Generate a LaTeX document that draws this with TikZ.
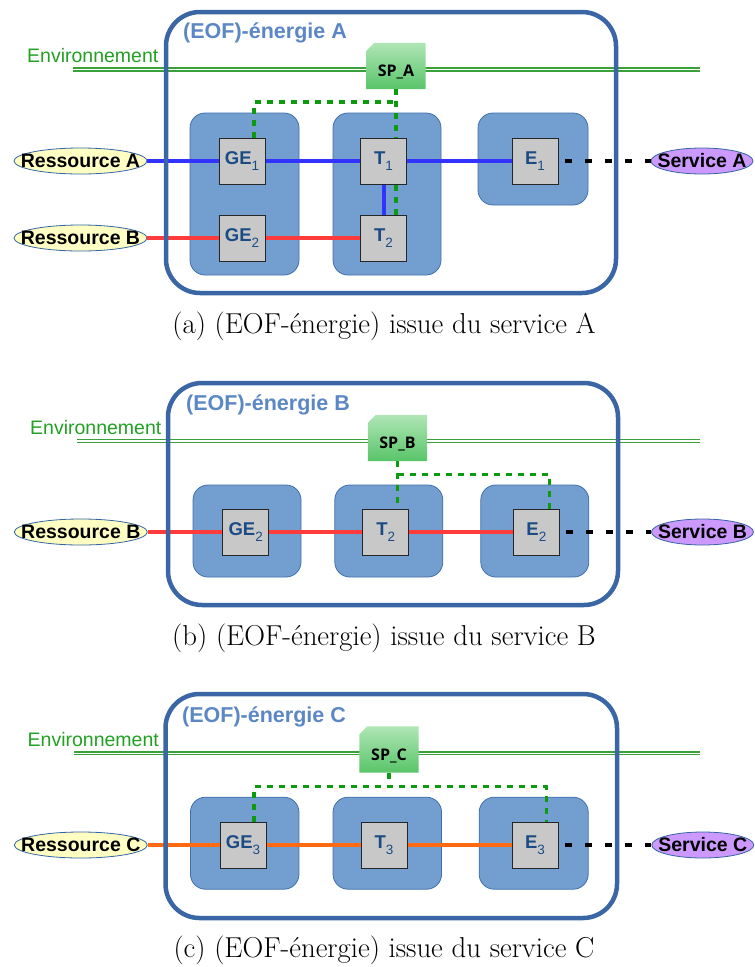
\documentclass[tikz,border=0pt]{standalone}
\usepackage{fontspec}
\newfontfamily\lib{Liberation Sans}
\newfontfamily\osans{Open Sans}
\usetikzlibrary{shapes.geometric,backgrounds,calc}
\pgfdeclarelayer{top}
\pgfsetlayers{background,main,top}
\definecolor{outerc}{HTML}{3A66A6}
\definecolor{titlec}{HTML}{5B87C5}
\definecolor{modf}{HTML}{729FCF}
\definecolor{modb}{HTML}{3F6FAE}
\definecolor{sqgray}{HTML}{C8C8C8}
\definecolor{sqtext}{HTML}{1B4B85}
\definecolor{envc}{HTML}{22A022}
\definecolor{envl}{HTML}{3AA03A}
\definecolor{gdc}{HTML}{0E9A0E}
\definecolor{resf}{HTML}{FFFFC4}
\definecolor{resb}{HTML}{3465A4}
\definecolor{servf}{HTML}{CC99FF}
\definecolor{lblue}{HTML}{3333FF}
\definecolor{lred}{HTML}{FF3B3B}
\definecolor{lorange}{HTML}{FF6A13}
\definecolor{sptop}{HTML}{B0E6B6}
\definecolor{spbot}{HTML}{58C468}
\newcommand\subs[1]{\raisebox{-5.5pt}{\fontsize{13.5}{14}\selectfont\mdseries #1}}
\newcommand\ztext[1]{\makebox[0pt]{#1}}
\tikzset{
  outerbox/.style={draw=outerc, line width=4.5pt, rounded corners=34pt},
  titletext/.style={anchor=base west, inner sep=0pt, text=titlec, font=\lib\bfseries\fontsize{21.5}{23}\selectfont},
  envtext/.style={anchor=base west, inner sep=0pt, text=envc, font=\lib\fontsize{19.5}{22}\selectfont},
  envline/.style={draw=envl, double=white, line width=1.3pt, double distance=1.6pt},
  modbox/.style={draw=modb, fill=modf, line width=0.8pt, rounded corners=15pt, inner sep=0pt},
  sqbox/.style={draw=black!85, fill=sqgray, line width=1pt, minimum size=46pt, inner sep=0pt, text=sqtext, font=\lib\bfseries\fontsize{18.5}{20}\selectfont},
  resbox/.style={ellipse, draw=resb, fill=resf, line width=0.8pt, minimum width=133pt, minimum height=26pt, inner sep=0pt, font=\lib\bfseries\fontsize{19.5}{20}\selectfont},
  servbox/.style={ellipse, draw=resb, fill=servf, line width=0.8pt, minimum width=102pt, minimum height=26pt, inner sep=0pt, font=\lib\bfseries\fontsize{19.5}{20}\selectfont},
  sptext/.style={minimum width=59pt, minimum height=46pt, inner sep=0pt, text height=21pt, text depth=0pt, font=\osans\bfseries\fontsize{16}{18}\selectfont},
  spshade/.style={top color=sptop, bottom color=spbot, draw=none},
  gdash/.style={draw=gdc, line width=3.2pt, dash pattern=on 6pt off 6pt},
  kdash/.style={draw=black, line width=4pt, dash pattern=on 6.5pt off 13.5pt, dash phase=13.5pt},
  bline/.style={draw=lblue, line width=4pt},
  rline/.style={draw=lred, line width=4pt},
  oline/.style={draw=lorange, line width=4pt},
  captext/.style={inner sep=0pt, font=\fontsize{28.8}{32}\selectfont},
}
\begin{document}
\begin{tikzpicture}[x=1pt,y=-1pt]
\useasboundingbox (0,0) rectangle (755,967);

% ================= Panel A =================
\begin{pgfonlayer}{top}
\draw[outerbox] (166,12) rectangle (616,293);
\end{pgfonlayer}
\node[titletext] (tA) at (183,38) {(EOF)-énergie A};
\node[envtext] (envA) at (27,62.5) {Environnement};
\coordinate (eA1) at (73,69.5);
\coordinate (eA2) at (700,69.5);
\node[modbox, minimum width=109pt, minimum height=162pt] (aM1) at (244.5,194) {};
\node[modbox, minimum width=108pt, minimum height=162pt] (aM2) at (387,194) {};
\node[modbox, minimum width=110pt, minimum height=92pt] (aM3) at (533,159) {};
\node[sptext] (spa) at (396,66) {SP\_A};
\begin{scope}[on background layer]
  \draw[envline] (eA1) -- (eA2);
  \shade[spshade] (spa.south west) -- ($(spa.north west)+(0,8)$) -- ($(spa.north west)+(8,0)$) -- (spa.north east) -- (spa.south east) -- cycle;
\end{scope}
\node[sqbox] (aGE1) at (242,161) {GE\subs{1}};
\node[sqbox] (aGE2) at (242,238) {GE\subs{2}};
\node[sqbox] (aT1) at (383.5,161) {T\subs{1}};
\node[sqbox] (aT2) at (383.5,238) {T\subs{2}};
\node[sqbox] (aE1) at (535,161) {E\subs{1}};
\node[resbox] (aRA) at (80.5,161) {\ztext{Ressource A}};
\node[resbox] (aRB) at (80.5,238) {\ztext{Ressource B}};
\node[servbox] (aSA) at (702,161) {\ztext{Service A}};
\coordinate (gA) at (254,102);
\draw[gdash] (spa.south) -- (spa.south |- aT1.north);
\draw[gdash] (aGE1.north -| gA) -- (gA) -- (gA -| spa.south);
\draw[gdash] (aT1.south -| spa.south) -- (aT2.north -| spa.south);
\draw[bline] (aRA.east) -- (aGE1.west);
\draw[bline] (aGE1.east) -- (aT1.west);
\draw[bline] (aT1.east) -- (aE1.west);
\draw[bline] (aT1.south) -- (aT2.north);
\draw[rline] (aRB.east) -- (aGE2.west);
\draw[rline] (aGE2.east) -- (aT2.west);
\draw[kdash] (aE1.east) -- (aSA.west);
\node[captext] (capA) at (384,326) {(a) (EOF-énergie) issue du service A};

% ================= Panel B =================
\begin{pgfonlayer}{top}
\draw[outerbox] (168,383) rectangle (618,605);
\end{pgfonlayer}
\node[titletext] (tB) at (186,410) {(EOF)-énergie B};
\node[envtext] (envB) at (30,434) {Environnement};
\coordinate (eB1) at (77,441);
\coordinate (eB2) at (700,441);
\node[modbox, minimum width=108pt, minimum height=92pt] (bM1) at (247,531) {};
\node[modbox, minimum width=108pt, minimum height=92pt] (bM2) at (388.8,531) {};
\node[modbox, minimum width=108pt, minimum height=92pt] (bM3) at (534.8,531) {};
\node[sptext] (spb) at (397.5,438) {SP\_B};
\begin{scope}[on background layer]
  \draw[envline] (eB1) -- (eB2);
  \shade[spshade] (spb.south west) -- ($(spb.north west)+(0,8)$) -- ($(spb.north west)+(8,0)$) -- (spb.north east) -- (spb.south east) -- cycle;
\end{scope}
\node[sqbox] (bGE2) at (245.7,532) {GE\subs{2}};
\node[sqbox] (bT2) at (385.7,532) {T\subs{2}};
\node[sqbox] (bE2) at (536.4,532) {E\subs{2}};
\node[resbox] (bRB) at (80.8,532) {\ztext{Ressource B}};
\node[servbox] (bSB) at (702.5,532) {\ztext{Service B}};
\coordinate (gB) at (549.7,474.7);
\draw[gdash] (spb.south) -- (spb.south |- bT2.north);
\draw[gdash] (spb.south |- gB) -- (gB) -- (gB |- bE2.north);
\draw[rline] (bRB.east) -- (bGE2.west);
\draw[rline] (bGE2.east) -- (bT2.west);
\draw[rline] (bT2.east) -- (bE2.west);
\draw[kdash] (bE2.east) -- (bSB.west);
\node[captext] (capB) at (384,638) {(b) (EOF-énergie) issue du service B};

% ================= Panel C =================
\begin{pgfonlayer}{top}
\draw[outerbox] (165.5,694) rectangle (617,918);
\end{pgfonlayer}
\node[titletext] (tC) at (182,722) {(EOF)-énergie C};
\node[envtext] (envC) at (27.5,746.5) {Environnement};
\coordinate (eC1) at (74,753.3);
\coordinate (eC2) at (700,753.3);
\node[modbox, minimum width=108.5pt, minimum height=92pt] (cM1) at (244.7,843.2) {};
\node[modbox, minimum width=108.5pt, minimum height=92pt] (cM2) at (387.3,843.2) {};
\node[modbox, minimum width=109pt, minimum height=92pt] (cM3) at (533.7,843.2) {};
\node[sptext] (spc) at (389,749.5) {SP\_C};
\begin{scope}[on background layer]
  \draw[envline] (eC1) -- (eC2);
  \shade[spshade] (spc.south west) -- ($(spc.north west)+(0,8)$) -- ($(spc.north west)+(8,0)$) -- (spc.north east) -- (spc.south east) -- cycle;
\end{scope}
\node[sqbox] (cGE3) at (243,845) {GE\subs{3}};
\node[sqbox] (cT3) at (384,845) {T\subs{3}};
\node[sqbox] (cE3) at (535,845) {E\subs{3}};
\node[resbox] (cRC) at (80.8,845) {\ztext{Ressource C}};
\node[servbox] (cSC) at (702.8,845) {\ztext{Service C}};
\coordinate (gC1) at (254,786.7);
\coordinate (gC2) at (546.3,786.7);
\draw[gdash] (spc.south) -- (spc.south |- gC1);
\draw[gdash] (cGE3.north -| gC1) -- (gC1) -- (gC2) -- (gC2 |- cE3.north);
\draw[oline] (cRC.east) -- (cGE3.west);
\draw[oline] (cGE3.east) -- (cT3.west);
\draw[oline] (cT3.east) -- (cE3.west);
\draw[kdash] (cE3.east) -- (cSC.west);
\node[captext] (capC) at (384,950) {(c) (EOF-énergie) issue du service C};
\end{tikzpicture}
\end{document}
